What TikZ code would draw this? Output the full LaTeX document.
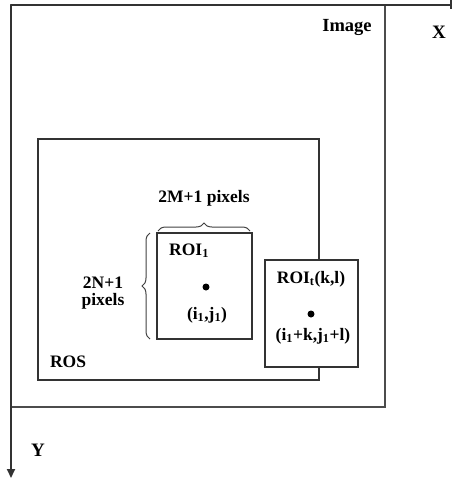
\documentclass[tikz,border=0pt]{standalone}
\usepackage{fontspec}
\setmainfont{Liberation Serif}
\usetikzlibrary{decorations.pathreplacing,arrows.meta}
\tikzset{
  axis/.style={draw=black!80, line width=1.8pt},
  frame/.style={draw=black!70, line width=1.3pt},
  box/.style={draw=black!80, line width=1.3pt},
  lbl/.style={font=\fontsize{17.5}{20}\selectfont\bfseries, inner sep=0pt, anchor=base},
  dotmark/.style={circle, fill=black, inner sep=0pt, minimum size=7pt},
  bracestyle/.style={draw=black!75, line width=1pt, decorate, decoration={brace, amplitude=8pt}}
}
\begin{document}
\begin{tikzpicture}[x=1pt,y=-1pt]
\useasboundingbox (0,0) rectangle (452,480);
% coordinates
\coordinate (O) at (11,5);
\coordinate (Xend) at (451,5);
\coordinate (Yend) at (11,478);
% image frame
\draw[frame] (11,5) rectangle (385,407);
% ROS
\draw[box] (38,139) rectangle (319,380);
% ROI_t
\draw[box, fill=white] (265,260) rectangle (358,367);
% ROI_1
\draw[box, fill=white] (157,233) rectangle (252,339);
% axes
\draw[axis] (O) -- (Xend);
\draw[axis] (451,0) -- (451,9);
\draw[axis, -{Triangle[length=9pt,width=8pt]}] (O) -- (Yend);
% braces
\coordinate (tb1) at (158,231);
\coordinate (tb2) at (250,231);
\draw[bracestyle] (tb1) -- (tb2);
\coordinate (lb1) at (150,339);
\coordinate (lb2) at (150,233);
\draw[bracestyle] (lb1) -- (lb2);
% labels
\node[lbl, font=\fontsize{18.5}{22}\selectfont\bfseries] (image) at (347,31) {Image};
\node[lbl, font=\fontsize{19}{22}\selectfont\bfseries] (xl) at (439,38) {X};
\node[lbl, font=\fontsize{19}{22}\selectfont\bfseries] (yl) at (38,456) {Y};
\node[lbl] (ros) at (68,367) {ROS};
\node[lbl] (mlbl) at (204,202) {2M+1 pixels};
\node[lbl] (nlbl1) at (103,288) {2N+1};
\node[lbl] (nlbl2) at (103,305) {pixels};
\node[lbl, anchor=base west] (roi1) at (169,255) {ROI\textsubscript{1}};
\node[dotmark] (d1) at (206,287) {};
\node[lbl] (ij1) at (207,319) {(i\textsubscript{1},j\textsubscript{1})};
\node[lbl] (roit) at (311,283) {ROI\textsubscript{t}(k,l)};
\node[dotmark] (d2) at (311,314) {};
\node[lbl] (ijt) at (313,340) {(i\textsubscript{1}+k,j\textsubscript{1}+l)};
\end{tikzpicture}
\end{document}
